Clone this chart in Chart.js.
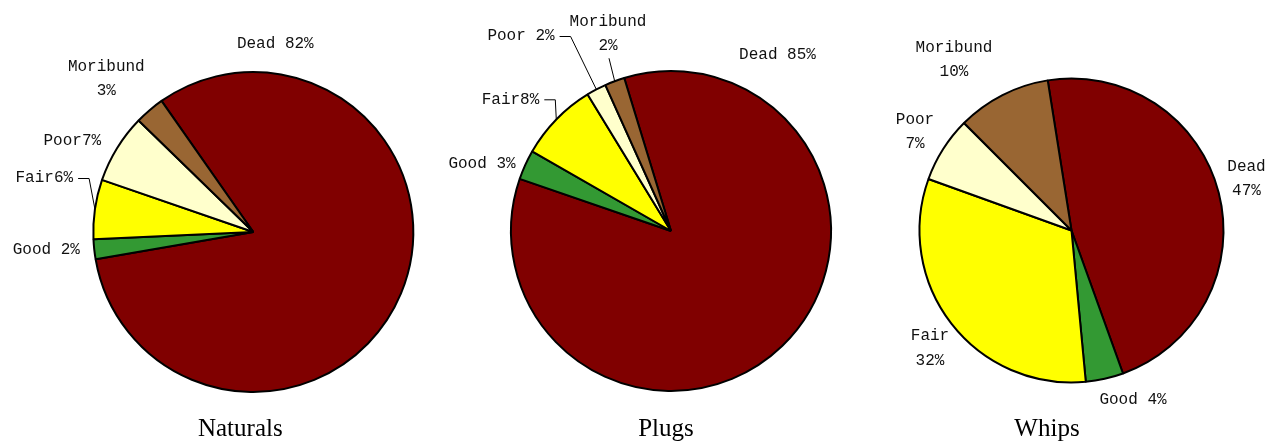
<!DOCTYPE html>
<html>
<head>
<meta charset="utf-8">
<script src="https://cdn.jsdelivr.net/npm/chart.js@4.4.1/dist/chart.umd.min.js"></script>
<style>
  html, body { margin: 0; padding: 0; background: #ffffff; }
  #wrap { position: relative; width: 1275px; height: 443px; overflow: hidden; }
  canvas { position: absolute; left: 0; top: 0; }
</style>
</head>
<body>
<div id="wrap">
  <canvas id="c1" width="1275" height="443"></canvas>
  <canvas id="c2" width="1275" height="443"></canvas>
  <canvas id="c3" width="1275" height="443"></canvas>
</div>
<script>
// ---- data ----
const categories = ["Dead", "Good", "Fair", "Poor", "Moribund"];
const colors = ["#800000", "#339933", "#FFFF00", "#FFFFCC", "#996633"];

const naturalsValues = [82, 2, 6, 7, 3];
const plugsValues    = [85, 3, 8, 2, 2];
const whipsValues    = [47, 4, 32, 7, 10];

const chartTitles = ["Naturals", "Plugs", "Whips"];

const naturalsLabels = [["Dead 82%"], ["Good 2%"], ["Fair6%"], ["Poor7%"], ["Moribund", "3%"]];
const plugsLabels    = [["Dead 85%"], ["Good 3%"], ["Fair8%"], ["Poor 2%"], ["Moribund", "2%"]];
const whipsLabels    = [["Dead", "47%"], ["Good 4%"], ["Fair", "32%"], ["Poor", "7%"], ["Moribund", "10%"]];

// ---- layout (positions/styles) ----
const W = 1275, H = 443;
const layouts = [
  { id: "c1", values: naturalsValues, labels: naturalsLabels, title: chartTitles[0],
    cx: 253.3, cy: 232, r: 160, rotation: -35,
    labelOffsets: [[22, -188], [-207, 18], [-209, -54], [-181, -91], [-147, -153]],
    leaders: { 2: "right" }, titleOffset: [-13, 197] },
  { id: "c2", values: plugsValues, labels: plugsLabels, title: chartTitles[1],
    cx: 671, cy: 231, r: 160, rotation: -17,
    labelOffsets: [[106.5, -176], [-189, -67.7], [-160.5, -131.7], [-150, -195], [-63, -197]],
    leaders: { 2: "right", 3: "right", 4: "below" }, titleOffset: [-5, 198] },
  { id: "c3", values: whipsValues, labels: whipsLabels, title: chartTitles[2],
    cx: 1071.5, cy: 230.5, r: 152, rotation: -9,
    labelOffsets: [[175, -51.5], [61.5, 169.5], [-141.5, 118], [-156.5, -98.5], [-117.5, -170.5]],
    leaders: {}, titleOffset: [-24.5, 198.5] }
];

const LABEL_FONT = "16px 'Liberation Mono', 'DejaVu Sans Mono', monospace";
const LINE_H = 24.5;
const TITLE_FONT = "25px 'Liberation Serif', 'Times New Roman', serif";

function labelPlugin(L) {
  return {
    id: "pieLabels_" + L.id,
    afterDraw(chart) {
      const ctx = chart.ctx;
      const meta = chart.getDatasetMeta(0);
      ctx.save();
      ctx.font = LABEL_FONT;
      ctx.fillStyle = "#111";
      ctx.textAlign = "center";
      ctx.textBaseline = "middle";
      meta.data.forEach((arc, i) => {
        const lines = L.labels[i];
        const lx = arc.x + L.labelOffsets[i][0];
        const ly = arc.y + L.labelOffsets[i][1];
        const n = lines.length;
        let maxW = 0;
        lines.forEach((t, k) => {
          const y = ly + (k - (n - 1) / 2) * LINE_H;
          ctx.fillText(t, lx, y);
          maxW = Math.max(maxW, ctx.measureText(t).width);
        });
        const kind = L.leaders[i];
        if (kind) {
          const mid = (arc.startAngle + arc.endAngle) / 2;
          const ex = arc.x + arc.outerRadius * Math.cos(mid);
          const ey = arc.y + arc.outerRadius * Math.sin(mid);
          ctx.beginPath();
          ctx.strokeStyle = "#000";
          ctx.lineWidth = 1;
          if (kind === "right") {
            const sx = lx + maxW / 2 + 5;
            ctx.moveTo(sx, ly + 0.5);
            ctx.lineTo(sx + 11, ly + 0.5);
            ctx.lineTo(ex, ey);
          } else {
            const sy = ly + ((n - 1) / 2) * LINE_H + 12;
            ctx.moveTo(lx + 1, sy);
            ctx.lineTo(ex, ey);
          }
          ctx.stroke();
        }
      });
      // title
      ctx.font = TITLE_FONT;
      ctx.fillStyle = "#000";
      const a0 = meta.data[0];
      ctx.fillText(L.title, a0.x + L.titleOffset[0], a0.y + L.titleOffset[1]);
      ctx.restore();
    }
  };
}

layouts.forEach(L => {
  const pad = 3;
  new Chart(document.getElementById(L.id), {
    type: "pie",
    data: {
      labels: categories,
      datasets: [{
        data: L.values,
        backgroundColor: colors,
        borderColor: "#000000",
        borderWidth: 2,
        borderAlign: "center"
      }]
    },
    options: {
      responsive: false,
      animation: false,
      devicePixelRatio: 1,
      events: [],
      rotation: L.rotation,
      radius: L.r,
      layout: {
        padding: {
          left: L.cx - L.r - pad,
          right: W - L.cx - L.r - pad,
          top: L.cy - L.r - pad,
          bottom: H - L.cy - L.r - pad
        }
      },
      plugins: {
        legend: { display: false },
        tooltip: { enabled: false },
        title: { display: false }
      }
    },
    plugins: [labelPlugin(L)]
  });
});
</script>
</body>
</html>
